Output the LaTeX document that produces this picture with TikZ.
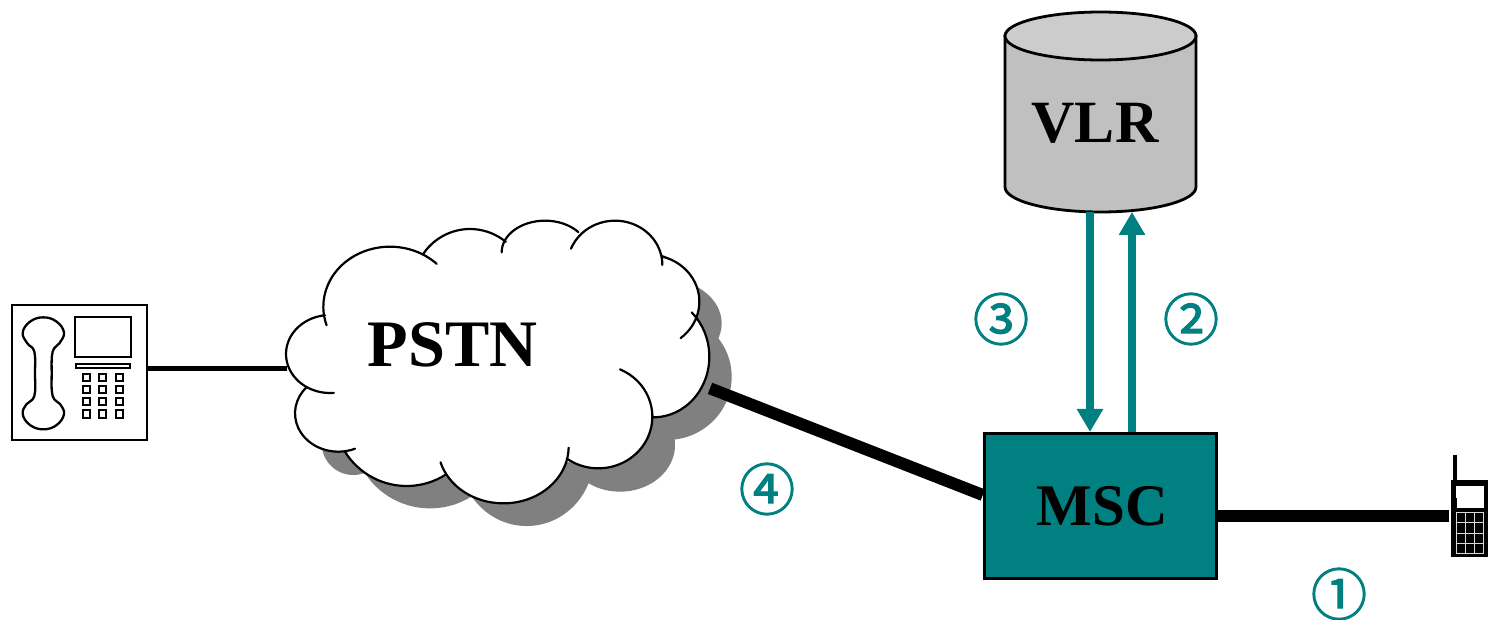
\documentclass[tikz,border=0pt]{standalone}
\usepackage{fontspec}
\setmainfont{Liberation Serif}
\newfontfamily\digitfont[FakeBold=2]{Noto Sans CJK SC}
\usetikzlibrary{arrows.meta}
\definecolor{tealc}{HTML}{008080}
\definecolor{shadowc}{HTML}{808080}
\definecolor{bodyc}{HTML}{C0C0C0}
\definecolor{topc}{HTML}{CCCCCC}
\tikzset{
  lbl/.style={font=\bfseries\fontsize{#1}{#1}\selectfont,inner sep=0pt},
  num/.style={font=\digitfont\fontsize{28}{28}\selectfont,text=tealc,inner sep=0pt},
  thick link/.style={line width=6pt,draw=black},
  flow/.style={draw=tealc,line width=4pt,-{Triangle[length=11.5pt,width=12.5pt]}},
  zoomcloud/.style={x=0.16667pt,y=-0.16667pt,shift={(810,600)}},
  zoomphone/.style={x=0.16667pt,y=-0.16667pt,shift={(0,870)}},
  zoommobile/.style={x=0.16667pt,y=-0.16667pt,shift={(4260,1320)}},
}
\newcommand\lobe[6]{({#1+#3*cos(#5)},{#2+#4*sin(#5)}) arc[start angle=#5,end angle=#6,x radius=#3,y radius=#4]}
\newcommand\cloudlobes{%
  \lobe{360}{320}{200}{180}{162}{314.4}
  \lobe{600}{256}{169}{169}{214.8}{309.5}
  \lobe{825}{157}{130}{95}{180}{320.3}
  \lobe{1035}{195}{142}{133}{201.6}{360}
  \lobe{1138}{305}{150}{140}{-75.7}{51.2}
  \lobe{1150}{470}{168}{182}{-47}{90}
  \lobe{985}{650}{162}{155}{-66.3}{126}
  \lobe{700}{740}{196}{170}{1}{164}
  \lobe{410}{640}{218}{218}{57.7}{148}
  \lobe{205}{640}{130}{115}{67.4}{223}
  \lobe{180}{462}{132}{117}{85}{263.5}
}
\begin{document}
\begin{tikzpicture}[x=0.5pt,y=-0.5pt]
\useasboundingbox (0,0) rectangle (1490,620);
% cloud shadow
\begin{scope}[zoomcloud]
  \fill[shadowc] (1130,280) circle (125);
  \fill[shadowc] (1180,370) ellipse [x radius=175,y radius=134];
  \fill[shadowc] (1190,530) ellipse [x radius=195,y radius=190];
  \fill[shadowc] (1050,735) ellipse [x radius=165,y radius=140];
  \fill[shadowc] (770,773) ellipse [x radius=200,y radius=205];
  \fill[shadowc] (480,700) ellipse [x radius=230,y radius=225];
  \fill[shadowc] (250,730) circle (95);
  \fill[white] (170,345) -- (360,145) -- (462,165) -- (600,95) -- (705,130) -- (825,70) -- (925,105) -- (1035,70) -- (1172,175) -- (1280,300) -- (1272,370) -- (1310,470) -- (1150,645) -- (985,798) -- (888,785) -- (700,903) -- (530,828) -- (410,850) -- (225,752) -- (85,640) -- (110,565) -- (56,462) -- cycle
    \cloudlobes;
  \draw[line width=1.1pt,line cap=round] \cloudlobes;
  \coordinate (cloudW) at (50,505);
  \coordinate (cloudE) at (1320,565);
\end{scope}
\node[lbl=33.2] (pstn) at (452.5,344.5) {PSTN};

% VLR cylinder
\draw[line width=1.4pt,fill=bodyc] (1005,36) -- (1005,187) arc[start angle=180,end angle=0,x radius=95.5,y radius=25] -- (1196,36) -- cycle;
\draw[line width=1.4pt,fill=topc] (1100.5,36) ellipse [x radius=95.5,y radius=24];
\node[lbl=30] (vlr) at (1095,123) {VLR};
\coordinate (vlrL) at (1090,212);
\coordinate (vlrR) at (1132,212);

% MSC
\node[draw=black,line width=1.7pt,fill=tealc,minimum width=116pt,minimum height=72.5pt,inner sep=0pt,lbl=29.5] (msc) at (1100.5,506) {\hspace*{2pt}MSC};
\coordinate (mscL) at (1090,432);
\coordinate (mscR) at (1132,432);

% telephone
\node[draw=black,line width=1.2pt,fill=white,minimum width=67.5pt,minimum height=67.5pt,inner sep=0pt] (phone) at (79.5,372.5) {};
\begin{scope}[zoomphone,line width=1.15pt]
  \draw plot[smooth cycle,tension=0.7] coordinates {(130,82) (170,95) (192,128) (178,160) (158,185) (155,250) (158,318) (180,342) (192,372) (170,405) (130,418) (90,405) (68,372) (80,342) (103,318) (105,250) (103,185) (82,160) (68,128) (90,95)};
  \draw (225,80) rectangle (392,200);
  \draw (228,222) rectangle (390,235);
  \foreach \px in {260,308,358}
    \foreach \py in {262,298,335,372}
      \draw[line width=1pt] (\px-11,\py-11) rectangle (\px+11,\py+11);
\end{scope}

% mobile
\node[minimum width=18pt,minimum height=38.5pt,inner sep=0pt] (mobile) at (1469,517) {};
\begin{scope}[zoommobile]
  \fill[black] (100,45) rectangle (112,125);
  \fill[black] (93,120) rectangle (205,352);
  \fill[white] (108,138) rectangle (192,205);
  \fill[black] (104,175) rectangle (110,205);
  \draw[white!85!black,line width=0.45pt] (108,218) rectangle (190,340);
  \foreach \gx in {135,162} \draw[white!85!black,line width=0.45pt] (\gx,218) -- (\gx,340);
  \foreach \gy in {248,279,310} \draw[white!85!black,line width=0.45pt] (108,\gy) -- (190,\gy);
\end{scope}

% connectors
\draw[line width=2.5pt] (phone.east |- cloudW) -- (cloudW);
\draw[thick link] (cloudE) -- (msc.west |- 0,495);
\draw[thick link,shorten >=1pt] (msc.east |- 0,516) -- (mobile.west |- 0,516);
\draw[flow] (vlrL) -- (mscL);
\draw[flow] (mscR) -- (vlrR);

% labels
\node[num] (n1) at (1339,594) {①};
\node[num] (n2) at (1191,319) {②};
\node[num] (n3) at (1001,319) {③};
\node[num] (n4) at (767,489) {④};
\end{tikzpicture}
\end{document}
